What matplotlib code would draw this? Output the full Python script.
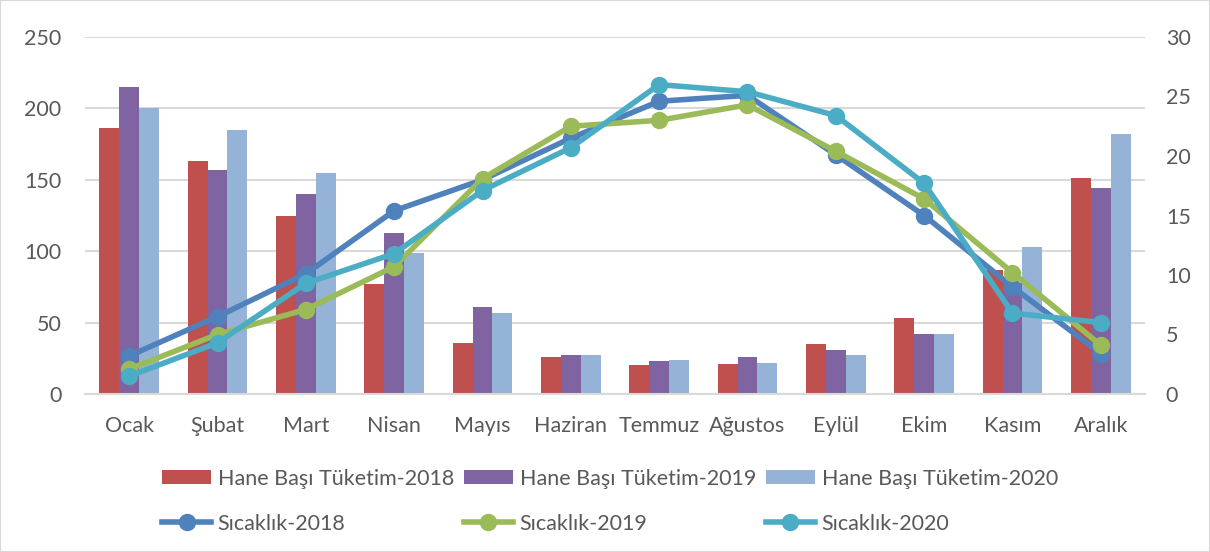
import numpy as np
import matplotlib.pyplot as plt
from matplotlib.patches import Rectangle

# Month labels
months = ['Ocak', 'Şubat', 'Mart', 'Nisan', 'Mayıs', 'Haziran', 'Temmuz',
          'Ağustos', 'Eylül', 'Ekim', 'Kasım', 'Aralık']

# Consumption per household (left axis)
cons_2018 = [186, 163, 125, 77, 36, 26, 20, 21, 35, 53, 87, 151]
cons_2019 = [215, 157, 140, 113, 61, 27, 23, 26, 31, 42, 78, 144]
cons_2020 = [200, 185, 155, 99, 57, 27, 23.5, 22, 27, 42, 103, 182]

# Temperature (right axis)
temp_2018 = [3.2, 6.5, 10.1, 15.4, 18.0, 21.5, 24.6, 25.1, 20.1, 15.0, 9.0, 3.4]
temp_2019 = [2.1, 5.0, 7.1, 10.7, 18.1, 22.5, 23.0, 24.3, 20.4, 16.4, 10.2, 4.1]
temp_2020 = [1.5, 4.3, 9.3, 11.8, 17.1, 20.7, 26.0, 25.4, 23.4, 17.7, 6.8, 6.0]

plt.rcParams['font.family'] = ['Lato', 'DejaVu Sans']
txt = '#595959'
grid = '#D9D9D9'

fig = plt.figure(figsize=(12.1, 5.52), dpi=100)
ax = fig.add_axes([85 / 1210, 1 - 394 / 552, 1060 / 1210, 357 / 552])
ax2 = ax.twinx()

x = np.arange(len(months))
w = 0.225
b1 = ax.bar(x - w, cons_2018, w, color='#C0504D', label='Hane Başı Tüketim-2018', zorder=2)
b2 = ax.bar(x, cons_2019, w, color='#8064A2', label='Hane Başı Tüketim-2019', zorder=2)
b3 = ax.bar(x + w, cons_2020, w, color='#95B3D7', label='Hane Başı Tüketim-2020', zorder=2)

lkw = dict(lw=4, marker='o', ms=11.5, solid_joinstyle='round')
l1, = ax2.plot(x, temp_2018, color='#4F81BD', label='Sıcaklık-2018', **lkw)
l2, = ax2.plot(x, temp_2019, color='#9BBB59', label='Sıcaklık-2019', **lkw)
l3, = ax2.plot(x, temp_2020, color='#4BACC6', label='Sıcaklık-2020', **lkw)

ax.set_xlim(-0.5, 11.5)
ax.set_ylim(0, 250)
ax.set_yticks(range(0, 251, 50))
ax2.set_ylim(0, 30)
ax2.set_yticks(range(0, 31, 5))
ax.set_xticks(x)
ax.set_xticklabels(months)

ax.yaxis.grid(True, color=grid, lw=1.5, zorder=0)
ax.set_axisbelow(True)
for a in (ax, ax2):
    for s in a.spines.values():
        s.set_visible(False)
    a.tick_params(length=0, labelsize=15.5, colors=txt)
ax.spines['bottom'].set_visible(True)
ax.spines['bottom'].set_color(grid)
ax.spines['bottom'].set_linewidth(1.5)
ax.tick_params(axis='x', pad=16)
ax.tick_params(axis='y', pad=17)
ax2.tick_params(axis='y', pad=15)

handles = [b1, l1, b2, l2, b3, l3]
leg = fig.legend(handles, [h.get_label() for h in handles], ncol=3,
                 loc='center', bbox_to_anchor=(0.504, 0.092), frameon=False,
                 fontsize=15.5, labelcolor=txt, handlelength=2.3,
                 handleheight=0.65, handletextpad=0.3, columnspacing=0.45,
                 labelspacing=1.15)

fig.patches.append(Rectangle((0, 0), 1, 1, transform=fig.transFigure,
                             fill=False, edgecolor=grid, lw=1.5))

fig.savefig('out.png', dpi=100)
